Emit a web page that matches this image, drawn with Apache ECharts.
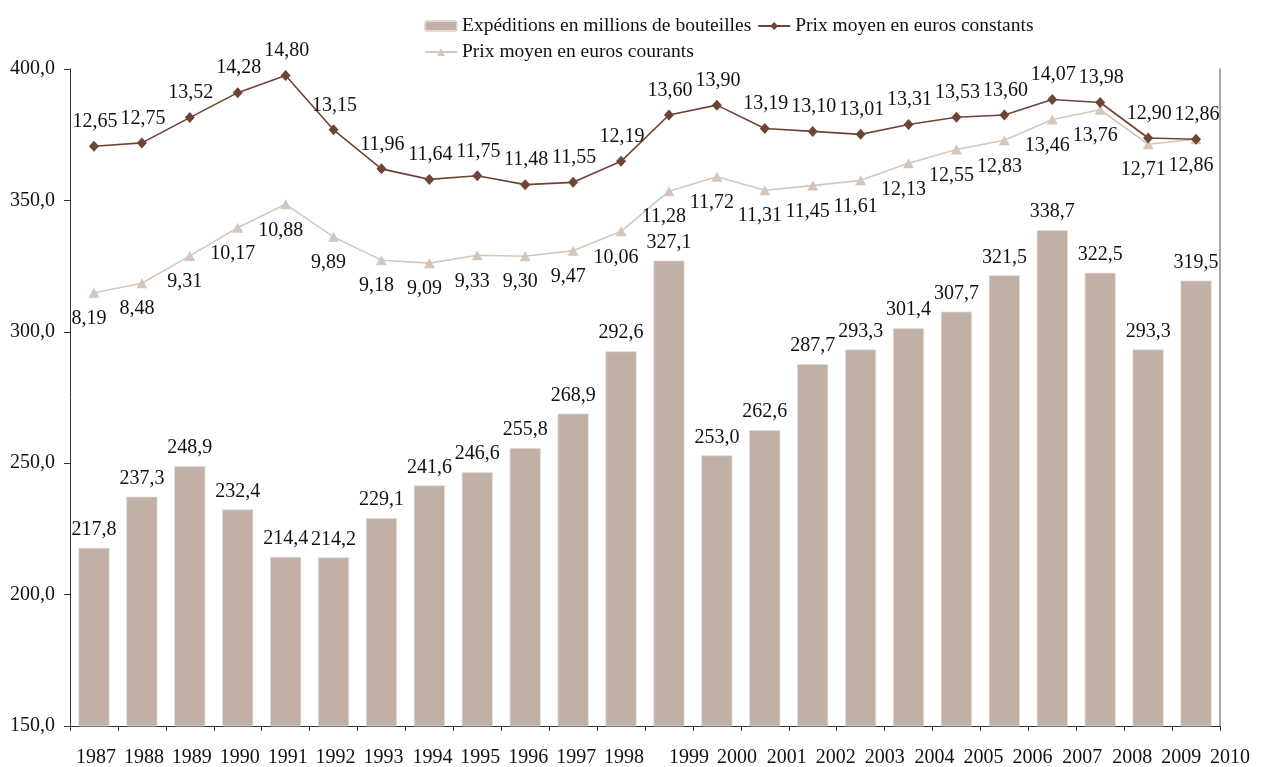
<!DOCTYPE html>
<html>
<head>
<meta charset="utf-8">
<script src="https://cdn.jsdelivr.net/npm/echarts@6/dist/echarts.min.js"></script>
<style>
  html, body { margin: 0; padding: 0; background: #ffffff; }
  #chart { width: 1262px; height: 767px; }
</style>
</head>
<body>
<div id="chart"></div>
<script>
const years = ['1987','1988','1989','1990','1991','1992','1993','1994','1995','1996','1997','1998',
               '1999','2000','2001','2002','2003','2004','2005','2006','2007','2008','2009','2010'];
const shipments = [217.8, 237.3, 248.9, 232.4, 214.4, 214.2, 229.1, 241.6, 246.6, 255.8, 268.9, 292.6,
                   327.1, 253.0, 262.6, 287.7, 293.3, 301.4, 307.7, 321.5, 338.7, 322.5, 293.3, 319.5];
const prixConstants = [12.65, 12.75, 13.52, 14.28, 14.80, 13.15, 11.96, 11.64, 11.75, 11.48, 11.55, 12.19,
                       13.60, 13.90, 13.19, 13.10, 13.01, 13.31, 13.53, 13.60, 14.07, 13.98, 12.90, 12.86];
const prixCourants = [8.19, 8.48, 9.31, 10.17, 10.88, 9.89, 9.18, 9.09, 9.33, 9.30, 9.47, 10.06,
                      11.28, 11.72, 11.31, 11.45, 11.61, 12.13, 12.55, 12.83, 13.46, 13.76, 12.71, 12.86];
const seriesNames = ['Expéditions en millions de bouteilles', 'Prix moyen en euros constants', 'Prix moyen en euros courants'];

// style: horizontal shift (px) of each year label, as in the reference layout
const labelShift = [2,2,2,2,2,2,2,3,3,3,3,3,20,20,22,23,24,26,27,28,30,32,33,34];

const FONT = '"Liberation Serif", "DejaVu Serif", serif';
const FS = 20;
const comma = (v, d) => v.toFixed(d).replace('.', ',');

const rich = {};
labelShift.forEach((s, i) => {
  rich['s' + i] = { padding: [0, 0, 0, 2 * s], fontFamily: FONT, fontSize: FS, color: '#111', lineHeight: 20 };
});

const chart = echarts.init(document.getElementById('chart'), null, { renderer: 'canvas' });
chart.setOption({
  animation: false,
  backgroundColor: '#ffffff',
  textStyle: { fontFamily: FONT, fontSize: FS, color: '#111' },
  legend: {
    left: 419,
    top: 11,
    width: 620,
    itemWidth: 32,
    itemHeight: 10,
    itemGap: 6,
    textStyle: { fontFamily: FONT, fontSize: 19.5, color: '#111', lineHeight: 20 },
    data: seriesNames
  },
  grid: {
    left: 70, right: 42, top: 69, bottom: 41,
    containLabel: false,
    outerBoundsMode: 'none'
  },
  xAxis: {
    type: 'category',
    data: years,
    boundaryGap: true,
    axisLine: { show: true, onZero: false, lineStyle: { color: '#333', width: 1 } },
    axisTick: { show: true, length: 5, inside: false, lineStyle: { color: '#333' } },
    axisLabel: {
      interval: 0,
      margin: 22,
      formatter: (v, i) => '{s' + i + '|' + v + '}',
      rich: rich
    },
    splitLine: { show: false }
  },
  yAxis: [
    {
      type: 'value',
      min: 150, max: 400, interval: 50,
      position: 'left',
      axisLine: { show: true, lineStyle: { color: '#333', width: 1 } },
      axisTick: { show: true, length: 6, inside: false, lineStyle: { color: '#333' } },
      axisLabel: {
        margin: 15,
        fontFamily: FONT, fontSize: FS, color: '#111',
        formatter: v => comma(v, 1)
      },
      splitLine: { show: false }
    },
    {
      type: 'value',
      min: -5, max: 15, interval: 5,
      position: 'right',
      axisLine: { show: true, onZero: false, lineStyle: { color: '#8a8a8a', width: 1.5 } },
      axisTick: { show: false },
      axisLabel: { show: false },
      splitLine: { show: false }
    }
  ],
  series: [
    {
      name: seriesNames[0],
      type: 'bar',
      yAxisIndex: 0,
      data: shipments,
      barWidth: '65%',
      itemStyle: { color: '#C1B0A6', borderColor: '#E4DAD4', borderWidth: 0.8 },
      label: {
        show: true,
        position: 'top',
        distance: 8,
        fontFamily: FONT, fontSize: FS, color: '#111', lineHeight: 20,
        formatter: p => comma(p.value, 1)
      },
      z: 1
    },
    {
      name: seriesNames[1],
      type: 'line',
      yAxisIndex: 1,
      data: prixConstants,
      symbol: 'diamond',
      symbolSize: [10, 11],
      lineStyle: { color: '#6F4335', width: 1.6 },
      itemStyle: { color: '#6F4335' },
      label: {
        show: true,
        position: 'top',
        distance: 9,
        offset: [1, 0],
        fontFamily: FONT, fontSize: FS, color: '#111', lineHeight: 20,
        formatter: p => comma(p.value, 2)
      },
      z: 3
    },
    {
      name: seriesNames[2],
      type: 'line',
      yAxisIndex: 1,
      data: prixCourants,
      symbol: 'triangle',
      symbolSize: [11, 10],
      lineStyle: { color: '#D5C6BB', width: 1.6 },
      itemStyle: { color: '#D5C6BB' },
      label: {
        show: true,
        position: 'bottom',
        distance: 11,
        offset: [-5, 0],
        fontFamily: FONT, fontSize: FS, color: '#111', lineHeight: 20,
        formatter: p => comma(p.value, 2)
      },
      z: 2
    }
  ]
});
</script>
</body>
</html>
